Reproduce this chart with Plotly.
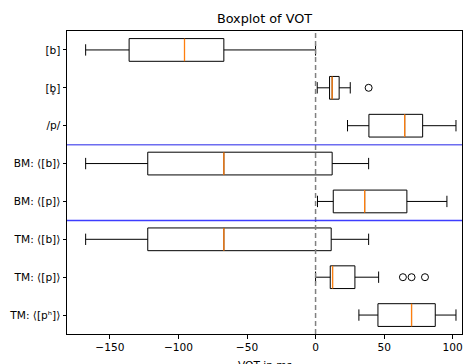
import plotly.graph_objects as go

labels = ["[b]", "[b\u0325]", "/p/", "BM: \u27e8[b]\u27e9", "BM: \u27e8[p]\u27e9",
          "TM: \u27e8[b]\u27e9", "TM: \u27e8[p]\u27e9", "TM: \u27e8[p\u02b0]\u27e9"]
lower = [-167.7, 1.2, 23.3, -167.7, 1.4, -167.7, 0.0, 31.6]
q1 = [-136.0, 10.2, 38.9, -122.4, 12.9, -122.4, 10.7, 45.5]
median = [-95.6, 12.1, 65.0, -66.9, 35.8, -66.9, 12.4, 70.0]
q3 = [-66.9, 17.2, 78.1, 12.1, 66.6, 11.4, 28.7, 87.3]
upper = [0.0, 25.3, 102.4, 38.7, 95.8, 38.7, 46.0, 102.4]
outliers = [[], [38.7], [], [], [], [], [63.7, 70.0, 79.8], []]
separators = [2.5, 4.5]
sep_colors = ["rgba(60,60,235,0.75)", "rgba(40,40,255,0.9)"]
xticks = [-150, -100, -50, 0, 50, 100]

pos = list(range(len(labels)))
BW = 0.6
FONT = "DejaVu Sans"

fig = go.Figure()
fig.add_trace(go.Box(
    orientation="h", y=pos, q1=q1, median=median, q3=q3,
    lowerfence=lower, upperfence=upper, width=BW, whiskerwidth=0.5,
    line=dict(color="black", width=1), fillcolor="rgba(0,0,0,0)",
    boxpoints=False, showlegend=False, hoverinfo="skip"))

mx, my = [], []
for p, m in zip(pos, median):
    mx += [m, m, None]
    my += [p - BW / 2, p + BW / 2, None]
fig.add_trace(go.Scatter(x=mx, y=my, mode="lines",
                         line=dict(color="#ff7f0e", width=1.3),
                         showlegend=False, hoverinfo="skip"))

ox, oy = [], []
for p, vals in zip(pos, outliers):
    for v in vals:
        ox.append(v)
        oy.append(p)
fig.add_trace(go.Scatter(x=ox, y=oy, mode="markers",
                         marker=dict(symbol="circle-open", size=7,
                                     color="black", line=dict(width=1)),
                         showlegend=False, hoverinfo="skip"))

fig.add_shape(type="line", xref="x", yref="paper", x0=0, x1=0, y0=0, y1=1,
              line=dict(color="gray", width=1.5, dash="5px,3px"))
for s, c in zip(separators, sep_colors):
    fig.add_shape(type="line", xref="paper", yref="y", x0=0, x1=1, y0=s, y1=s,
                  line=dict(color=c, width=1.5))

fig.update_layout(
    width=463, height=364,
    margin=dict(l=67, r=1, t=31, b=30),
    paper_bgcolor="white", plot_bgcolor="white",
    font=dict(family=FONT, size=10.6, color="black"),
    title=dict(text="Boxplot of VOT", x=0.5, xref="paper", xanchor="center",
               y=1 - 19 / 364, yref="container", yanchor="middle",
               font=dict(family=FONT, size=12.8, color="black")),
    xaxis=dict(range=[-181.3, 106.8], tickvals=xticks, showgrid=False,
               zeroline=False, showline=True, linecolor="black", linewidth=1,
               mirror=True, ticks="outside", ticklen=3.5, tickcolor="black",
               tickwidth=1, ticklabeloverflow="allow"),
    yaxis=dict(range=[7.5, -0.5], tickvals=pos, ticktext=labels,
               showgrid=False, zeroline=False, showline=True,
               linecolor="black", linewidth=1, mirror=True, ticks="outside",
               ticklen=3.5, tickcolor="black", tickwidth=1),
)
fig.add_annotation(text="VOT in ms", xref="paper", yref="paper", x=0.5, y=0,
                   xanchor="center", yanchor="top", yshift=-23,
                   showarrow=False, font=dict(family=FONT, size=10.6))

fig.write_html("out.html", config={"displayModeBar": False},
               post_script="document.body.style.margin='0';"
                           "document.body.style.overflow='hidden';")
